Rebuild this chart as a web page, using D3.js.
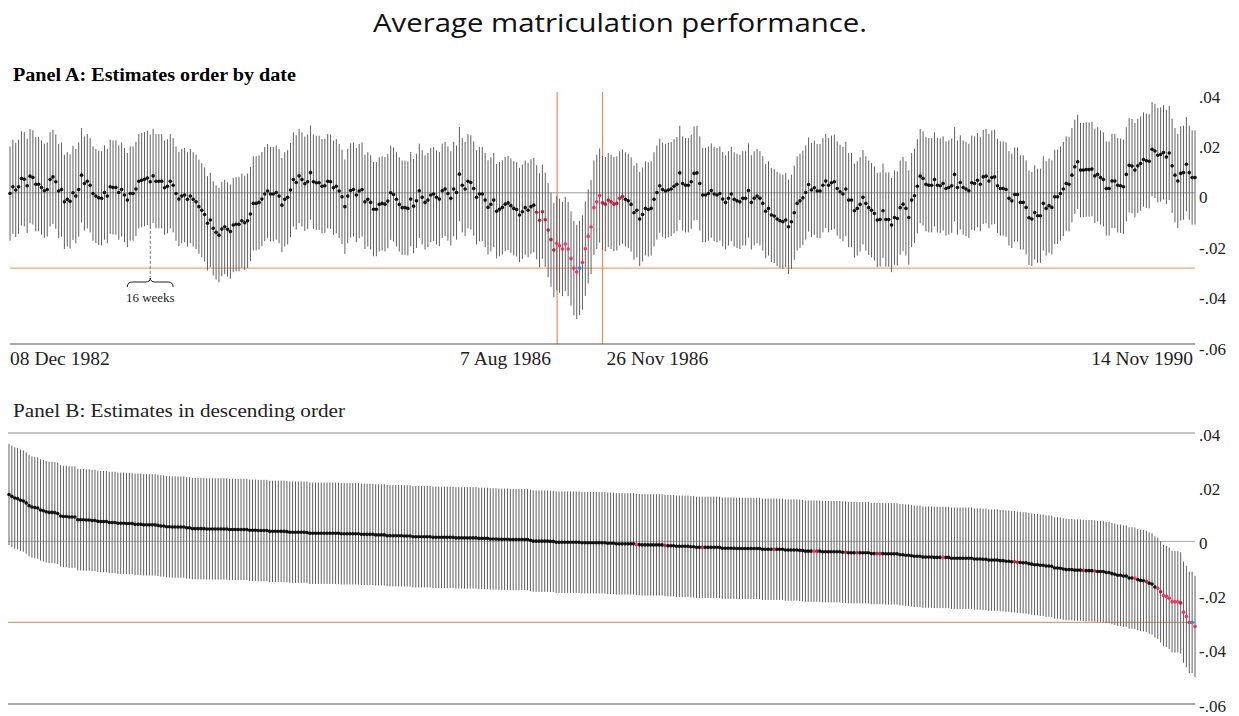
<!DOCTYPE html>
<html>
<head>
<meta charset="utf-8">
<script src="https://cdn.jsdelivr.net/npm/d3@7"></script>
<style>
  body { margin: 0; background: #fff; }
</style>
</head>
<body>
<svg id="chart" width="1239" height="716"></svg>
<script>
// Weekly estimates, 08 Dec 1982 .. 14 Nov 1990
const estimates = [
  -0.0003, 0.0024, 0.0011, 0.0024, 0.0057, 0.0054, 0.0028, 0.0066, 0.0061, 0.0034,
  0.0034, 0.0021, 0.0008, 0.0013, 0.0053, 0.0063, 0.0044, 0.0007, 0.0013, -0.0036,
  -0.0026, -0.0034, 0.0000, -0.0013, 0.0013, 0.0070, 0.0037, 0.0046, 0.0030, -0.0003,
  -0.0013, -0.0020, -0.0022, 0.0001, -0.0013, 0.0024, 0.0021, 0.0021, 0.0001, 0.0013,
  -0.0009, -0.0029, -0.0003, -0.0003, 0.0015, 0.0046, 0.0050, 0.0054, 0.0059, 0.0044,
  0.0067, 0.0046, 0.0046, 0.0046, 0.0020, 0.0026, 0.0046, 0.0030, -0.0003, -0.0025,
  -0.0013, -0.0009, -0.0026, -0.0013, -0.0026, -0.0036, -0.0055, -0.0069, -0.0086, -0.0121,
  -0.0108, -0.0141, -0.0157, -0.0168, -0.0144, -0.0135, -0.0145, -0.0154, -0.0128, -0.0125,
  -0.0125, -0.0111, -0.0119, -0.0111, -0.0084, -0.0042, -0.0042, -0.0038, -0.0025, -0.0005,
  0.0007, -0.0005, -0.0005, 0.0001, -0.0013, -0.0049, -0.0026, -0.0018, 0.0011, 0.0053,
  0.0041, 0.0067, 0.0053, 0.0036, 0.0044, 0.0080, 0.0044, 0.0040, 0.0040, 0.0026,
  0.0028, 0.0046, 0.0044, 0.0020, 0.0026, 0.0007, -0.0016, -0.0055, -0.0013, 0.0009,
  0.0013, -0.0009, 0.0007, 0.0013, -0.0036, -0.0026, -0.0038, -0.0065, -0.0065, -0.0046,
  -0.0042, -0.0045, -0.0033, 0.0000, -0.0007, -0.0026, -0.0046, -0.0059, -0.0059, -0.0062,
  -0.0025, -0.0053, -0.0032, 0.0008, -0.0018, -0.0038, -0.0029, -0.0009, -0.0005, -0.0018,
  -0.0025, 0.0008, 0.0015, -0.0003, -0.0022, 0.0015, 0.0001, 0.0074, 0.0030, 0.0015,
  0.0046, 0.0041, 0.0017, -0.0018, -0.0005, -0.0005, -0.0029, -0.0058, -0.0046, -0.0029,
  -0.0073, -0.0065, -0.0058, -0.0045, -0.0040, -0.0051, -0.0062, -0.0066, -0.0088, -0.0075,
  -0.0059, -0.0069, -0.0055, -0.0049, -0.0077, -0.0109, -0.0075, -0.0107, -0.0148, -0.0186,
  -0.0227, -0.0200, -0.0210, -0.0223, -0.0203, -0.0223, -0.0261, -0.0299, -0.0314, -0.0299,
  -0.0277, -0.0222, -0.0173, -0.0136, -0.0059, -0.0036, -0.0011, -0.0040, -0.0045, -0.0029,
  -0.0036, -0.0045, -0.0042, -0.0022, -0.0015, -0.0026, -0.0032, -0.0046, -0.0079, -0.0069,
  -0.0104, -0.0086, -0.0062, -0.0066, -0.0062, -0.0026, 0.0001, 0.0028, 0.0013, 0.0007,
  0.0011, 0.0015, 0.0026, 0.0034, 0.0079, 0.0037, 0.0030, 0.0030, 0.0044, 0.0077,
  0.0079, 0.0037, -0.0009, -0.0009, -0.0003, 0.0009, -0.0005, -0.0009, -0.0003, -0.0025,
  -0.0038, -0.0022, -0.0005, -0.0026, -0.0032, -0.0036, -0.0022, -0.0022, 0.0009, -0.0038,
  -0.0022, -0.0013, -0.0022, -0.0042, -0.0073, -0.0062, -0.0088, -0.0092, -0.0104, -0.0111,
  -0.0115, -0.0108, -0.0135, -0.0115, -0.0079, -0.0042, -0.0032, -0.0020, 0.0001, 0.0033,
  0.0011, 0.0020, 0.0007, 0.0007, 0.0030, 0.0047, 0.0030, 0.0040, 0.0044, 0.0017,
  0.0004, -0.0005, 0.0015, -0.0029, -0.0029, -0.0071, -0.0062, -0.0046, -0.0018, -0.0042,
  -0.0059, -0.0069, -0.0082, -0.0108, -0.0106, -0.0071, -0.0106, -0.0106, -0.0128, -0.0098,
  -0.0102, -0.0059, -0.0045, -0.0062, -0.0098, -0.0029, -0.0012, 0.0026, 0.0066, 0.0057,
  0.0034, 0.0030, 0.0030, 0.0053, 0.0030, 0.0028, 0.0037, 0.0017, 0.0021, 0.0028,
  0.0073, 0.0021, 0.0041, 0.0021, 0.0015, 0.0008, 0.0040, 0.0037, 0.0050, 0.0034,
  0.0063, 0.0066, 0.0047, 0.0061, 0.0063, 0.0028, 0.0017, 0.0017, 0.0013, -0.0022,
  -0.0032, -0.0007, -0.0007, -0.0038, -0.0038, -0.0058, -0.0099, -0.0104, -0.0078, -0.0091,
  -0.0091, -0.0042, -0.0062, -0.0051, -0.0058, -0.0016, -0.0016, -0.0003, 0.0015, 0.0037,
  0.0034, 0.0070, 0.0103, 0.0123, 0.0090, 0.0090, 0.0092, 0.0092, 0.0094, 0.0067,
  0.0073, 0.0061, 0.0053, 0.0017, 0.0017, 0.0047, 0.0047, 0.0030, 0.0028, 0.0024,
  0.0073, 0.0109, 0.0106, 0.0090, 0.0107, 0.0116, 0.0132, 0.0127, 0.0125, 0.0173,
  0.0166, 0.0149, 0.0152, 0.0160, 0.0142, 0.0158, 0.0107, 0.0070, 0.0047, 0.0077,
  0.0080, 0.0113, 0.0080, 0.0061, 0.0061
];
const ciHalfWidth = 0.0187;

const firstWeek = new Date(1982, 11, 8);
const lastWeek = new Date(1990, 10, 14);
const windowDates = [new Date(1986, 7, 7), new Date(1986, 10, 26)];
const dateLabels = [
  { date: new Date(1982, 11, 8), text: '08 Dec 1982', anchor: 'start', dx: 0 },
  { date: new Date(1986, 7, 7), text: '7 Aug 1986', anchor: 'end', dx: -6 },
  { date: new Date(1986, 10, 26), text: '26 Nov 1986', anchor: 'start', dx: 4 },
  { date: new Date(1990, 10, 14), text: '14 Nov 1990', anchor: 'end', dx: -2 },
];
const yTicks = [0.04, 0.02, 0, -0.02, -0.04, -0.06];
const yTickLabels = ['.04', '.02', '0', '-.02', '-.04', '-.06'];

// week indices of the highlighted estimates
const preWeeks = [184, 190];
const windowWeeks = [191, 206];
const postWeeks = [207, 214];
const markedWeek = 199;
const threshold = -0.0299;
const braceWeeks = [41, 49, 57];

const serif = '"Liberation Serif", "Times New Roman", serif';

const colorOf = (i) => {
  if (i === markedWeek) return '#1a8fd4';
  if (i >= windowWeeks[0] && i <= windowWeeks[1]) return '#ff2b60';
  if ((i >= preWeeks[0] && i <= preWeeks[1]) || (i >= postWeeks[0] && i <= postWeeks[1])) return '#b3223e';
  return '#111';
};

const data = estimates.map((v, i) => ({
  i,
  v,
  date: d3.timeDay.offset(firstWeek, 7 * i),
  color: colorOf(i),
}));

const svg = d3.select('#chart');

// Title
svg.append('text')
  .attr('x', 620)
  .attr('y', 32)
  .attr('text-anchor', 'middle')
  .attr('textLength', 494)
  .attr('lengthAdjust', 'spacingAndGlyphs')
  .style('font', '26px "Open Sans", "Noto Sans", sans-serif')
  .style('fill', '#111')
  .text('Average matriculation performance.');

// ---------- Panel A ----------
const xA = d3.scaleTime().domain([firstWeek, lastWeek]).range([10, 1195]);
const yA = d3.scaleLinear().domain([-0.06, 0.04]).range([344, 92]);

const panelA = svg.append('g').attr('class', 'panel-a');

panelA.append('text')
  .attr('x', 13)
  .attr('y', 81)
  .attr('textLength', 283)
  .attr('lengthAdjust', 'spacingAndGlyphs')
  .style('font', `bold 18px ${serif}`)
  .style('fill', '#000')
  .text('Panel A: Estimates order by date');

panelA.append('line')
  .attr('x1', 10).attr('x2', 1195)
  .attr('y1', yA(0)).attr('y2', yA(0))
  .attr('stroke', '#9a9a9a').attr('stroke-width', 1);

panelA.append('line')
  .attr('x1', 10).attr('x2', 1195)
  .attr('y1', yA(threshold)).attr('y2', yA(threshold))
  .attr('stroke', '#f4a56c').attr('stroke-width', 1.2);

panelA.selectAll('.win')
  .data(windowDates)
  .enter()
  .append('line')
  .attr('class', 'win')
  .attr('x1', (d) => xA(d)).attr('x2', (d) => xA(d))
  .attr('y1', yA(0.04)).attr('y2', yA(-0.06))
  .attr('stroke', '#ee8763').attr('stroke-width', 1.2);

panelA.selectAll('.bar')
  .data(data)
  .enter()
  .append('line')
  .attr('class', 'bar')
  .attr('x1', (d) => xA(d.date)).attr('x2', (d) => xA(d.date))
  .attr('y1', (d) => yA(d.v + ciHalfWidth))
  .attr('y2', (d) => yA(d.v - ciHalfWidth))
  .attr('stroke', '#5e5e5e').attr('stroke-width', 1);

panelA.selectAll('.dot')
  .data(data.filter((d) => d.color === '#111').concat(data.filter((d) => d.color !== '#111')))
  .enter()
  .append('circle')
  .attr('class', 'dot')
  .attr('cx', (d) => xA(d.date))
  .attr('cy', (d) => yA(d.v))
  .attr('r', 1.8)
  .style('fill', (d) => d.color);

panelA.append('line')
  .attr('x1', 10).attr('x2', 1195)
  .attr('y1', yA(-0.06)).attr('y2', yA(-0.06))
  .attr('stroke', '#555').attr('stroke-width', 1.2);

// 16 weeks annotation
const bx0 = xA(data[braceWeeks[0]].date);
const bxm = xA(data[braceWeeks[1]].date);
const bx1 = xA(data[braceWeeks[2]].date);
panelA.append('line')
  .attr('x1', bxm).attr('x2', bxm)
  .attr('y1', yA(data[braceWeeks[1]].v - ciHalfWidth) + 2).attr('y2', 277)
  .attr('stroke', '#777').attr('stroke-width', 1)
  .attr('stroke-dasharray', '3,2');
panelA.append('path')
  .attr('d', `M${bx0},287 Q${bx0},282 ${bx0 + 5},282 L${bxm - 5},282 Q${bxm},282 ${bxm},278 `
    + `Q${bxm},282 ${bxm + 5},282 L${bx1 - 5},282 Q${bx1},282 ${bx1},287`)
  .attr('fill', 'none').attr('stroke', '#222').attr('stroke-width', 1);
panelA.append('text')
  .attr('x', bxm).attr('y', 302)
  .attr('text-anchor', 'middle')
  .style('font', `13px ${serif}`)
  .style('fill', '#222')
  .text('16 weeks');

// date labels
panelA.selectAll('.date-label')
  .data(dateLabels)
  .enter()
  .append('text')
  .attr('class', 'date-label')
  .attr('x', (d) => xA(d.date) + d.dx)
  .attr('y', 365)
  .attr('text-anchor', (d) => d.anchor)
  .style('font', `19.5px ${serif}`)
  .style('fill', '#222')
  .text((d) => d.text);

const yAxis = (scale) => d3.axisRight(scale)
  .tickValues(yTicks)
  .tickFormat((d, i) => yTickLabels[i])
  .tickSize(0)
  .tickPadding(0);

const styleAxis = (offset) => (g) => {
  g.select('.domain').remove();
  g.selectAll('text')
    .attr('dy', null)
    .attr('y', offset)
    .style('font', `17px ${serif}`)
    .style('fill', '#222');
};

panelA.append('g')
  .attr('transform', 'translate(1199,0)')
  .call(yAxis(yA))
  .call(styleAxis(10));

// ---------- Panel B ----------
const sorted = d3.sort(data, (a, b) => d3.descending(a.v, b.v));
const xB = d3.scaleLinear().domain([0, sorted.length - 1]).range([9, 1195]);
const yB = d3.scaleLinear().domain([-0.06, 0.04]).range([704, 433]);

const panelB = svg.append('g').attr('class', 'panel-b');

panelB.append('text')
  .attr('x', 13)
  .attr('y', 417)
  .attr('textLength', 332)
  .attr('lengthAdjust', 'spacingAndGlyphs')
  .style('font', `19px ${serif}`)
  .style('fill', '#222')
  .text('Panel B: Estimates in descending order');

panelB.append('line')
  .attr('x1', 8).attr('x2', 1195)
  .attr('y1', yB(0.04)).attr('y2', yB(0.04))
  .attr('stroke', '#8a8a8a').attr('stroke-width', 1);

panelB.append('line')
  .attr('x1', 8).attr('x2', 1195)
  .attr('y1', yB(0)).attr('y2', yB(0))
  .attr('stroke', '#aaa').attr('stroke-width', 1);

panelB.append('line')
  .attr('x1', 8).attr('x2', 1195)
  .attr('y1', yB(threshold)).attr('y2', yB(threshold))
  .attr('stroke', '#d6a274').attr('stroke-width', 1.2);

panelB.selectAll('.bar')
  .data(sorted)
  .enter()
  .append('line')
  .attr('class', 'bar')
  .attr('x1', (d, k) => xB(k)).attr('x2', (d, k) => xB(k))
  .attr('y1', (d) => yB(d.v + ciHalfWidth))
  .attr('y2', (d) => yB(d.v - ciHalfWidth))
  .attr('stroke', '#5e5e5e').attr('stroke-width', 1);

const ranked = sorted.map((d, k) => ({ ...d, k }));
panelB.selectAll('.dot')
  .data(ranked.filter((d) => d.color === '#111').concat(ranked.filter((d) => d.color !== '#111')))
  .enter()
  .append('circle')
  .attr('class', 'dot')
  .attr('cx', (d) => xB(d.k))
  .attr('cy', (d) => yB(d.v))
  .attr('r', 1.8)
  .style('fill', (d) => d.color);

panelB.append('line')
  .attr('x1', 8).attr('x2', 1195)
  .attr('y1', yB(-0.06)).attr('y2', yB(-0.06))
  .attr('stroke', '#555').attr('stroke-width', 1.2);

panelB.append('g')
  .attr('transform', 'translate(1199,0)')
  .call(yAxis(yB))
  .call(styleAxis(7));
</script>
</body>
</html>
